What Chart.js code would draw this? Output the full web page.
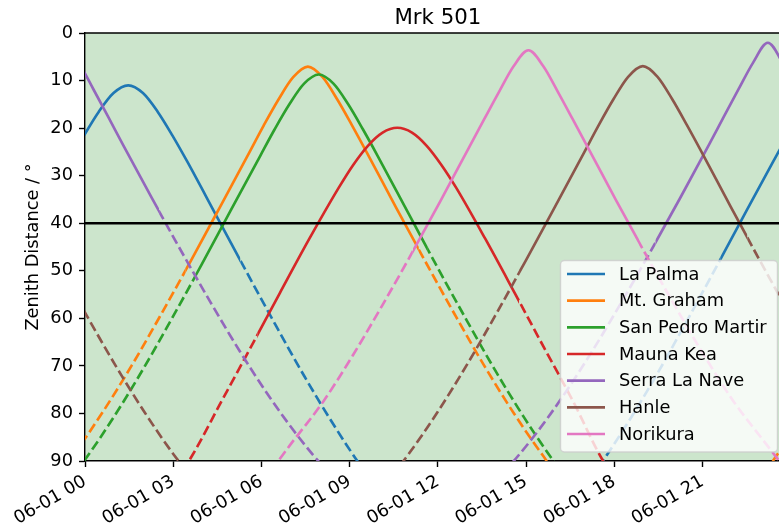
<!DOCTYPE html>
<html><head><meta charset="utf-8">
<script src="https://cdn.jsdelivr.net/npm/chart.js@4.4.1/dist/chart.umd.min.js"></script>
<style>html,body{margin:0;padding:0;background:#fff;overflow:hidden}canvas{display:block}</style>
</head><body>
<canvas id="c" width="779" height="532"></canvas>
<script>
// ---------------- data ----------------
const chartTitle = 'Mrk 501';
const yAxisLabel = 'Zenith Distance / °';
const tickHours = [0, 3, 6, 9, 12, 15, 18, 21];
const tickPrefix = '06-01 ';
const limitZd = 40;

const siteNames = ['La Palma', 'Mt. Graham', 'San Pedro Martir', 'Mauna Kea', 'Serra La Nave', 'Hanle', 'Norikura'];
const siteColors = ['#1f77b4', '#ff7f0e', '#2ca02c', '#d62728', '#9467bd', '#8c564b', '#e377c2'];

// hours (UTC) and zenith distance (deg)
const laPalmaTimes = [-0.53, -0.03, 0.47, 0.97, 1.47, 1.97, 2.47, 2.97, 3.47, 4.46, 5.46, 6.46, 7.45, 8.45, 9.45, 10.45, 16.43, 17.42, 18.42, 19.42, 20.41, 21.41, 22.41, 23.41, 23.90, 24.40];
const laPalmaZd    = [26.96, 21.52, 16.54, 12.63, 11.00, 12.63, 16.54, 21.52, 26.96, 38.35, 49.86, 61.18, 72.08, 82.34, 91.68, 99.72, 99.72, 91.68, 82.34, 72.08, 61.18, 49.86, 38.35, 26.96, 21.52, 16.54];

const mtGrahamTimes = [-1.40, -0.40, 0.60, 1.60, 2.59, 3.59, 4.59, 5.59, 6.08, 6.58, 7.08, 7.58, 8.08, 8.58, 9.08, 9.58, 10.57, 11.57, 12.57, 13.56, 14.56, 15.56, 16.56, 22.54, 23.53, 24.53];
const mtGrahamZd    = [96.43, 88.74, 79.74, 69.79, 59.14, 48.01, 36.59, 25.08, 19.41, 13.98, 9.30, 7.07, 9.30, 13.98, 19.41, 25.08, 36.59, 48.01, 59.14, 69.79, 79.74, 88.74, 96.43, 96.43, 88.74, 79.74];

const spmTimes = [-1.03, -0.03, 0.97, 1.97, 2.96, 3.96, 4.96, 5.96, 6.45, 6.95, 7.45, 7.95, 8.45, 8.95, 9.45, 9.95, 10.94, 11.94, 12.94, 13.93, 14.93, 15.93, 16.93, 22.91, 23.90, 24.90];
const spmZd    = [97.81, 89.97, 80.83, 70.74, 59.98, 48.77, 37.26, 25.82, 20.24, 14.99, 10.65, 8.73, 10.65, 14.99, 20.24, 25.82, 37.26, 48.77, 59.98, 70.74, 80.83, 89.97, 97.81, 97.81, 89.97, 80.83];

const maunaKeaTimes = [-0.35, 0.65, 1.65, 2.64, 3.64, 4.64, 5.63, 6.63, 7.63, 8.63, 9.12, 9.62, 10.12, 10.62, 11.12, 11.62, 12.12, 12.62, 13.61, 14.61, 15.61, 16.60, 17.60, 18.60, 19.60, 20.59, 21.59, 22.59, 23.58, 24.58];
const maunaKeaZd    = [118.79, 114.17, 107.13, 98.32, 88.90, 77.47, 66.17, 54.64, 43.26, 32.52, 27.74, 23.72, 20.95, 19.93, 20.95, 23.72, 27.74, 32.52, 43.26, 54.64, 66.17, 77.47, 89.80, 98.32, 107.13, 114.17, 118.79, 120.42, 118.79, 114.17];

const serraTimes = [-1.71, -1.21, -0.71, -0.21, 0.29, 0.79, 1.28, 2.28, 3.28, 4.28, 5.27, 6.27, 7.27, 8.26, 9.26, 10.26, 11.26, 12.25, 13.25, 14.25, 15.24, 16.24, 17.24, 18.23, 19.23, 20.23, 21.23, 21.72, 22.22, 22.72, 23.22, 23.72, 24.22];
const serraZd    = [11.88, 6.23, 2.06, 6.23, 11.88, 17.63, 23.39, 34.80, 45.95, 56.74, 66.98, 76.49, 85.01, 92.23, 97.80, 101.33, 102.54, 101.33, 97.80, 92.23, 85.01, 76.49, 66.98, 56.74, 45.95, 34.80, 23.39, 17.63, 11.88, 6.23, 2.06, 6.23, 11.88];

const hanleTimes = [-0.97, 0.03, 1.02, 2.02, 3.02, 4.02, 5.01, 6.01, 7.01, 8.00, 9.00, 10.00, 10.99, 11.99, 12.99, 13.98, 14.98, 15.98, 16.98, 17.47, 17.97, 18.47, 18.97, 19.47, 19.97, 20.47, 20.97, 21.96, 22.96, 23.96, 24.95];
const hanleZd    = [47.97, 59.10, 69.74, 79.69, 88.67, 96.36, 102.32, 106.14, 107.46, 106.14, 102.32, 96.36, 88.67, 79.69, 69.74, 59.10, 47.97, 36.55, 25.04, 19.37, 13.94, 9.22, 6.97, 9.22, 13.94, 19.37, 25.04, 36.55, 47.97, 59.10, 69.74];

const norikuraTimes = [-0.87, 0.12, 1.12, 2.12, 3.12, 4.11, 5.11, 6.10, 7.10, 8.10, 9.10, 10.09, 11.09, 12.09, 13.08, 13.58, 14.08, 14.58, 15.08, 15.58, 16.08, 16.58, 17.08, 18.07, 19.07, 20.07, 21.06, 22.06, 23.06, 24.06];
const norikuraZd    = [85.62, 93.57, 99.26, 102.89, 104.13, 102.89, 99.26, 93.57, 85.62, 77.52, 67.86, 57.48, 46.57, 35.30, 23.82, 18.06, 12.36, 6.94, 3.62, 6.94, 12.36, 18.06, 23.82, 35.30, 46.57, 57.48, 67.86, 77.52, 85.62, 93.57];

// dark-time window per site (solid line), hours UTC; start > end wraps over midnight
const nightStart = [21.62, 3.41, 3.75, 5.86, 19.40, 14.76, 11.15];
const nightEnd   = [5.28, 11.35, 11.66, 14.76, 2.52, 22.52, 18.84];

const siteTimes = [laPalmaTimes, mtGrahamTimes, spmTimes, maunaKeaTimes, serraTimes, hanleTimes, norikuraTimes];
const siteZd = [laPalmaZd, mtGrahamZd, spmZd, maunaKeaZd, serraZd, hanleZd, norikuraZd];

// ---------------- styles ----------------
const FONT = "'DejaVu Sans', 'Liberation Sans', sans-serif";
const LW = 2.65;
const DASH = [9.8, 4.2];
const BG = 'rgb(204,229,204)';

function timeRanges(s, e, solid) {
  if (s < e) return solid ? [[s, e]] : [[-5, s], [e, 30]];
  return solid ? [[-5, e], [s, 30]] : [[e, s]];
}

const datasets = [];
siteNames.forEach((name, i) => {
  const pts = siteTimes[i].map((t, k) => ({ x: t, y: siteZd[i][k] }));
  const base = {
    data: pts, borderColor: siteColors[i], backgroundColor: siteColors[i],
    borderWidth: LW, pointRadius: 0, pointHoverRadius: 0, fill: false,
    cubicInterpolationMode: 'monotone', order: 100 - i * 2
  };
  datasets.push(Object.assign({}, base, { label: name, clipRanges: timeRanges(nightStart[i], nightEnd[i], true) }));
  datasets.push(Object.assign({}, base, { label: name + ' (day)', borderDash: DASH, clipRanges: timeRanges(nightStart[i], nightEnd[i], false), order: 100 - i * 2 + 1 }));
});
datasets.push({
  label: 'limit', data: [{ x: -1, y: limitZd }, { x: 25, y: limitZd }],
  borderColor: '#000', borderWidth: LW, pointRadius: 0, order: 0
});

const bgPlugin = {
  id: 'bg',
  beforeDraw(chart) {
    const { ctx, chartArea: a } = chart;
    ctx.save(); ctx.fillStyle = BG;
    ctx.fillRect(a.left, a.top, a.right - a.left, a.bottom - a.top);
    ctx.restore();
  }
};

const clipPlugin = {
  id: 'timeclip',
  beforeDatasetDraw(chart, args) {
    const ds = chart.data.datasets[args.index];
    if (!ds.clipRanges) return;
    const { ctx, chartArea: a } = chart; const xs = chart.scales.x;
    ctx.save(); ctx.beginPath();
    ds.clipRanges.forEach(([s, e]) => {
      const p0 = xs.getPixelForValue(s), p1 = xs.getPixelForValue(e);
      ctx.rect(p0, a.top - 10, p1 - p0, a.bottom - a.top + 20);
    });
    ctx.clip();
  },
  afterDatasetDraw(chart, args) {
    const ds = chart.data.datasets[args.index];
    if (!ds.clipRanges) return;
    chart.ctx.restore();
  }
};

const decorPlugin = {
  id: 'decor',
  afterDatasetsDraw(chart) {
    const { ctx, chartArea: a } = chart;
    // legend
    ctx.save();
    const x0 = 560.5, y0 = 260.5, w = 217, h = 191.5;
    ctx.beginPath();
    if (ctx.roundRect) ctx.roundRect(x0, y0, w, h, 4); else ctx.rect(x0, y0, w, h);
    ctx.fillStyle = 'rgba(255,255,255,0.8)'; ctx.fill();
    ctx.strokeStyle = 'rgba(204,204,204,0.8)'; ctx.lineWidth = 1.4; ctx.stroke();
    ctx.font = '17.8px ' + FONT; ctx.textBaseline = 'middle'; ctx.textAlign = 'left';
    siteNames.forEach((n, i) => {
      const y = 274 + i * 26.67;
      ctx.beginPath(); ctx.moveTo(567, y); ctx.lineTo(605, y);
      ctx.strokeStyle = siteColors[i]; ctx.lineWidth = LW; ctx.stroke();
      ctx.fillStyle = '#000'; ctx.fillText(n, 619, y + 1);
    });
    ctx.restore();
  },
  afterDraw(chart) {
    const { ctx, chartArea: a } = chart;
    ctx.save();
    ctx.strokeStyle = '#000'; ctx.lineWidth = 1.4;
    ctx.beginPath(); ctx.moveTo(a.left - 0.7, a.top); ctx.lineTo(a.right + 1, a.top); ctx.stroke();
    ctx.fillStyle = '#000'; ctx.font = '21.3px ' + FONT;
    ctx.textAlign = 'center'; ctx.textBaseline = 'alphabetic';
    ctx.fillText(chartTitle, chart.scales.x.getPixelForValue(12), 24);
    ctx.restore();
  }
};

Chart.defaults.font.family = FONT;
Chart.defaults.color = '#000';

new Chart(document.getElementById('c'), {
  type: 'line',
  data: { datasets },
  options: {
    responsive: false, animation: false, devicePixelRatio: 1,
    layout: { padding: { top: 33, right: 0, bottom: 0, left: 0 } },
    plugins: { legend: { display: false }, tooltip: { enabled: false }, title: { display: false } },
    scales: {
      x: {
        type: 'linear', min: 0, max: 23.6,
        afterBuildTicks: (s) => { s.ticks = tickHours.map(v => ({ value: v })); },
        afterFit: (s) => { s.height = 71; },
        grid: { drawOnChartArea: false, drawTicks: true, tickLength: 6, tickWidth: 1.4, tickColor: '#000' },
        border: { display: true, color: '#000', width: 1.4 },
        ticks: {
          autoSkip: false, minRotation: 30, maxRotation: 30, padding: 4,
          font: { size: 17.8 }, color: '#000',
          callback: (v) => tickPrefix + String(v).padStart(2, '0')
        }
      },
      y: {
        type: 'linear', min: 0, max: 90, reverse: true,
        afterFit: (s) => { s.width = 85; },
        grid: { drawOnChartArea: false, drawTicks: true, tickLength: 6, tickWidth: 1.4, tickColor: '#000' },
        border: { display: true, color: '#000', width: 1.4 },
        ticks: { stepSize: 10, padding: 6, font: { size: 17.8 }, color: '#000' },
        title: { display: true, text: yAxisLabel, font: { size: 17.8 }, color: '#000', padding: { top: 23, bottom: 0 } }
      }
    }
  },
  plugins: [bgPlugin, clipPlugin, decorPlugin]
});
</script>
</body></html>
